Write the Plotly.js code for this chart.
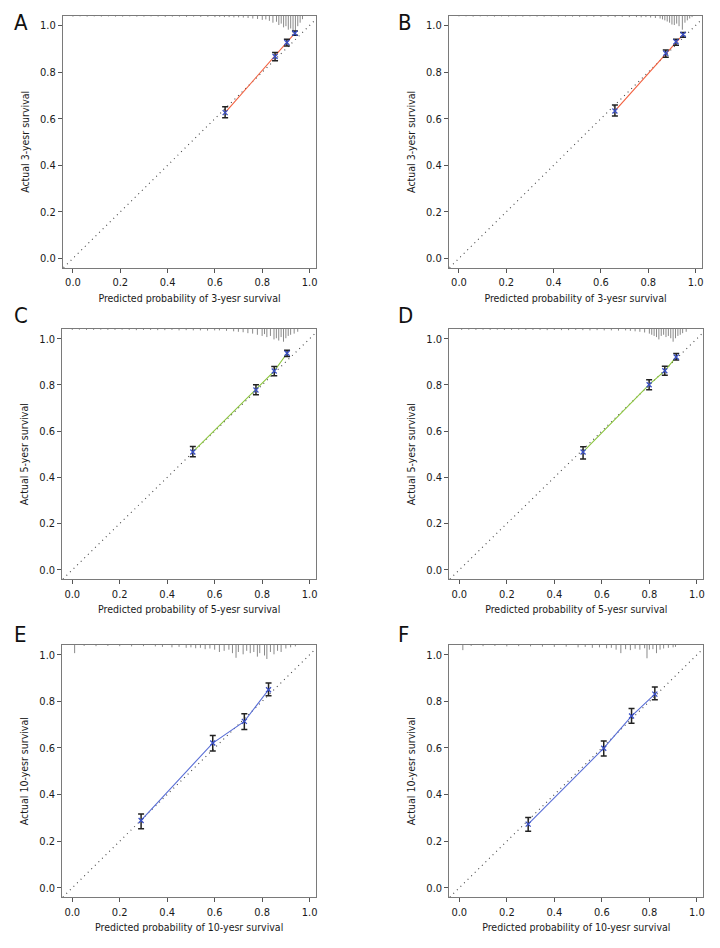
<!DOCTYPE html>
<html>
<head>
<meta charset="utf-8">
<script src="https://cdn.plot.ly/plotly-3.0.1.min.js"></script>
<style>html,body{margin:0;padding:0;background:#fff;}</style>
</head>
<body>
<div id="chart" style="width:720px;height:948px;"></div>
<script>
// ---------- data ----------
const panelLetters = ["A", "B", "C", "D", "E", "F"];
const horizons = ["3", "3", "5", "5", "10", "10"];

// predicted / observed / CI per panel
const predA = [0.643, 0.854, 0.904, 0.938];
const obsA  = [0.626, 0.867, 0.927, 0.967];
const lowA  = [0.604, 0.849, 0.912, 0.958];
const upA   = [0.651, 0.884, 0.941, 0.976];

const predB = [0.659, 0.874, 0.917, 0.947];
const obsB  = [0.633, 0.881, 0.930, 0.961];
const lowB  = [0.611, 0.864, 0.915, 0.950];
const upB   = [0.659, 0.895, 0.941, 0.970];

const predC = [0.508, 0.774, 0.851, 0.905];
const obsC  = [0.510, 0.778, 0.860, 0.937];
const lowC  = [0.489, 0.758, 0.840, 0.923];
const upC   = [0.534, 0.801, 0.880, 0.950];

const predD = [0.521, 0.799, 0.865, 0.913];
const obsD  = [0.510, 0.801, 0.861, 0.921];
const lowD  = [0.480, 0.779, 0.842, 0.908];
const upD   = [0.532, 0.822, 0.881, 0.936];

const predE = [0.290, 0.592, 0.725, 0.827];
const obsE  = [0.289, 0.621, 0.714, 0.850];
const lowE  = [0.253, 0.587, 0.679, 0.824];
const upE   = [0.317, 0.654, 0.747, 0.879];

const predF = [0.290, 0.608, 0.725, 0.823];
const obsF  = [0.273, 0.599, 0.737, 0.831];
const lowF  = [0.242, 0.566, 0.706, 0.807];
const upF   = [0.302, 0.630, 0.769, 0.862];

// rug (distribution of predicted probabilities) : positions and spike lengths
const rugXA   = [0.00,0.03,0.06,0.09,0.12,0.15,0.18,0.21,0.24,0.27,0.30,0.33,0.36,0.39,0.42,0.45,0.48,0.51,0.54,0.57,0.60,0.62,0.64,0.66,0.68,0.70,0.72,0.74,0.76,0.78,0.80,0.815,0.83,0.845,0.86,0.87,0.88,0.89,0.90,0.91,0.92,0.93,0.94,0.95,0.96,0.97];
const rugLenA = [0.004,0.003,0.004,0.003,0.004,0.003,0.004,0.004,0.003,0.004,0.004,0.003,0.004,0.005,0.004,0.004,0.005,0.004,0.005,0.005,0.006,0.005,0.006,0.006,0.007,0.007,0.008,0.010,0.012,0.014,0.018,0.016,0.022,0.030,0.026,0.040,0.034,0.050,0.045,0.060,0.055,0.075,0.065,0.045,0.030,0.015];

const rugXB   = [0.00,0.03,0.06,0.09,0.12,0.15,0.18,0.21,0.24,0.27,0.30,0.33,0.36,0.39,0.42,0.45,0.48,0.51,0.54,0.57,0.60,0.63,0.66,0.69,0.72,0.75,0.77,0.79,0.81,0.83,0.85,0.86,0.87,0.88,0.89,0.90,0.91,0.92,0.93,0.944,0.955,0.965,0.975,0.985];
const rugLenB = [0.003,0.003,0.004,0.003,0.003,0.004,0.003,0.004,0.003,0.004,0.003,0.004,0.004,0.003,0.004,0.004,0.004,0.005,0.004,0.005,0.005,0.005,0.006,0.005,0.006,0.006,0.007,0.006,0.008,0.010,0.012,0.016,0.020,0.025,0.030,0.038,0.040,0.034,0.045,0.060,0.030,0.020,0.012,0.006];

const rugXC   = [0.00,0.03,0.06,0.09,0.12,0.15,0.18,0.21,0.24,0.27,0.30,0.33,0.36,0.39,0.42,0.45,0.48,0.51,0.54,0.57,0.60,0.62,0.65,0.68,0.70,0.72,0.74,0.76,0.78,0.80,0.81,0.82,0.835,0.85,0.86,0.87,0.88,0.89,0.90,0.91,0.92,0.935,0.95];
const rugLenC = [0.004,0.003,0.004,0.004,0.003,0.004,0.004,0.003,0.004,0.005,0.004,0.004,0.005,0.005,0.004,0.006,0.005,0.006,0.006,0.007,0.006,0.006,0.008,0.010,0.012,0.014,0.018,0.020,0.025,0.030,0.022,0.035,0.030,0.045,0.040,0.050,0.035,0.055,0.040,0.030,0.025,0.020,0.012];

const rugXD   = [0.01,0.04,0.07,0.10,0.13,0.16,0.19,0.22,0.25,0.28,0.31,0.34,0.37,0.40,0.43,0.46,0.49,0.52,0.55,0.58,0.61,0.64,0.67,0.70,0.72,0.74,0.76,0.78,0.80,0.81,0.82,0.83,0.84,0.85,0.86,0.87,0.88,0.89,0.90,0.91,0.92,0.93,0.94,0.955];
const rugLenD = [0.004,0.003,0.004,0.003,0.004,0.003,0.004,0.004,0.003,0.004,0.004,0.004,0.005,0.004,0.005,0.005,0.004,0.005,0.006,0.005,0.006,0.006,0.007,0.006,0.008,0.010,0.012,0.015,0.020,0.025,0.030,0.035,0.045,0.030,0.025,0.035,0.030,0.040,0.055,0.040,0.030,0.025,0.018,0.012];

const rugXE   = [0.01,0.05,0.10,0.15,0.20,0.25,0.30,0.35,0.38,0.42,0.45,0.48,0.50,0.52,0.54,0.56,0.58,0.60,0.62,0.64,0.66,0.675,0.69,0.70,0.72,0.735,0.75,0.765,0.78,0.79,0.81,0.82,0.835,0.85,0.865,0.88,0.90,0.92,0.94];
const rugLenE = [0.035,0.004,0.005,0.004,0.005,0.006,0.005,0.006,0.008,0.010,0.008,0.012,0.010,0.014,0.012,0.018,0.015,0.020,0.030,0.025,0.020,0.035,0.055,0.030,0.040,0.025,0.035,0.030,0.050,0.035,0.045,0.060,0.030,0.040,0.025,0.030,0.015,0.010,0.006];

const rugXF   = [0.015,0.05,0.10,0.15,0.20,0.25,0.30,0.35,0.40,0.45,0.50,0.53,0.56,0.59,0.62,0.64,0.66,0.68,0.70,0.72,0.74,0.76,0.78,0.79,0.80,0.815,0.83,0.845,0.86,0.88,0.90,0.91];
const rugLenF = [0.022,0.004,0.005,0.004,0.006,0.005,0.006,0.007,0.008,0.007,0.010,0.008,0.012,0.010,0.014,0.012,0.020,0.035,0.018,0.022,0.016,0.020,0.014,0.057,0.020,0.018,0.035,0.020,0.015,0.012,0.010,0.008];

const tickVals = [0, 0.2, 0.4, 0.6, 0.8, 1.0];
const tickText = ["0.0", "0.2", "0.4", "0.6", "0.8", "1.0"];

// ---------- styling / layout ----------
const FONT = "'Liberation Sans Narrow', 'Arial Narrow', 'DejaVu Sans Condensed', sans-serif";
const XR = [-0.042, 1.027];
const YR = [-0.041, 1.042];
const lineColors = ["#f2603f", "#f2603f", "#8cc63f", "#8cc63f", "#5a6fd6", "#5a6fd6"];

const panels = [
  {pred: predA, obs: obsA, low: lowA, up: upA, rx: rugXA, rl: rugLenA},
  {pred: predB, obs: obsB, low: lowB, up: upB, rx: rugXB, rl: rugLenB},
  {pred: predC, obs: obsC, low: lowC, up: upC, rx: rugXC, rl: rugLenC},
  {pred: predD, obs: obsD, low: lowD, up: upD, rx: rugXD, rl: rugLenD},
  {pred: predE, obs: obsE, low: lowE, up: upE, rx: rugXE, rl: rugLenE},
  {pred: predF, obs: obsF, low: lowF, up: upF, rx: rugXF, rl: rugLenF}
];

const W = 720, H = 948;
// frame boxes in pixels [left, right, top, bottom]
const boxes = [
  [63, 316, 15.7, 268],
  [449, 702, 15.7, 268],
  [62.3, 316, 329, 579.3],
  [449.3, 703.3, 329, 579.3],
  [62.3, 316, 645, 897.3],
  [449.3, 703.3, 645, 897.3]
];
const letterPos = [[12, 22.5], [396, 22.5], [12, 315], [396, 315], [12, 634.5], [396, 634.5]];

const traces = [];
const layout = {
  width: W, height: H,
  margin: {l: 0, r: 0, t: 0, b: 0},
  paper_bgcolor: "#fff", plot_bgcolor: "#fff",
  showlegend: false,
  font: {family: FONT, size: 11, color: "#1a1a1a"},
  annotations: []
};

panels.forEach((p, i) => {
  const n = i + 1;
  const xa = "x" + (n === 1 ? "" : n), ya = "y" + (n === 1 ? "" : n);
  const xk = "xaxis" + (n === 1 ? "" : n), yk = "yaxis" + (n === 1 ? "" : n);
  const b = boxes[i];

  // diagonal reference line
  traces.push({
    x: [-0.1, 1.1], y: [-0.1, 1.1], xaxis: xa, yaxis: ya,
    mode: "lines", line: {color: "#444", width: 1.1, dash: "1px,4px"}, hoverinfo: "skip"
  });

  // rug spikes from top frame
  const rx = [], ry = [];
  p.rx.forEach((v, k) => { rx.push(v, v, null); ry.push(YR[1], YR[1] - p.rl[k], null); });
  traces.push({
    x: rx, y: ry, xaxis: xa, yaxis: ya, mode: "lines",
    line: {color: "#8a8a8a", width: 1}, hoverinfo: "skip"
  });

  // calibration line
  traces.push({
    x: p.pred, y: p.obs, xaxis: xa, yaxis: ya, mode: "lines",
    line: {color: lineColors[i], width: 1.1}
  });

  // points with CI
  traces.push({
    x: p.pred, y: p.obs, xaxis: xa, yaxis: ya, mode: "markers",
    marker: {symbol: "x-thin", size: 5, color: "#3a4fc4", line: {width: 1.3, color: "#3a4fc4"}},
    error_y: {
      type: "data", symmetric: false,
      array: p.up.map((u, k) => u - p.obs[k]),
      arrayminus: p.low.map((l, k) => p.obs[k] - l),
      color: "#222", thickness: 1.5, width: 3
    }
  });

  const axCommon = {
    showgrid: false, zeroline: false, showline: true, mirror: true,
    linecolor: "#7a7a7a", linewidth: 1,
    ticks: "outside", ticklen: 4, tickwidth: 1, tickcolor: "#555",
    tickvals: tickVals, ticktext: tickText,
    tickfont: {family: FONT, size: 11, color: "#1a1a1a"}
  };
  layout[xk] = Object.assign({}, axCommon, {
    domain: [b[0] / W, b[1] / W], range: XR, anchor: ya,
    title: {text: "Predicted probability of " + horizons[i] + "-yesr survival",
            font: {family: FONT, size: 10.5, color: "#1a1a1a"}, standoff: 6}
  });
  layout[yk] = Object.assign({}, axCommon, {
    domain: [1 - b[3] / H, 1 - b[2] / H], range: YR, anchor: xa,
    title: {text: "Actual " + horizons[i] + "-yesr survival",
            font: {family: FONT, size: 10.5, color: "#1a1a1a"}, standoff: 8}
  });

  layout.annotations.push({
    text: panelLetters[i], xref: "paper", yref: "paper",
    x: letterPos[i][0] / W, y: 1 - letterPos[i][1] / H,
    xanchor: "left", yanchor: "middle", showarrow: false,
    font: {family: FONT, size: 22, color: "#111"}
  });
});

Plotly.newPlot("chart", traces, layout, {displayModeBar: false, staticPlot: true});
</script>
</body>
</html>
